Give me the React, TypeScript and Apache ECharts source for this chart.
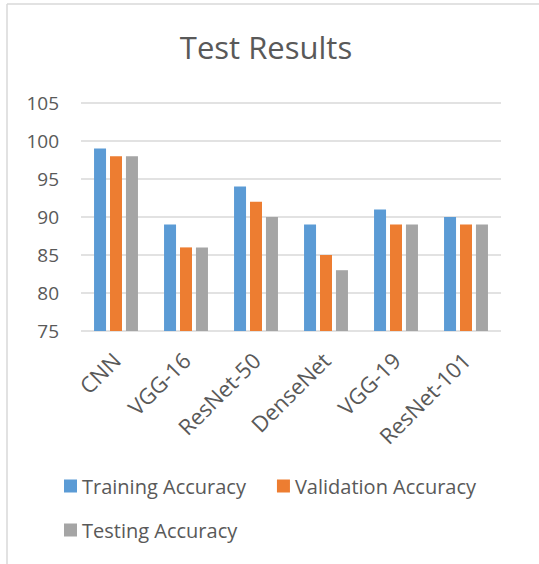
import React, { useEffect, useRef } from "react";
import * as echarts from "echarts";

const categories = ["CNN", "VGG-16", "ResNet-50", "DenseNet", "VGG-19", "ResNet-101"];
const trainingAccuracy = [99, 89, 94, 89, 91, 90];
const validationAccuracy = [98, 86, 92, 85, 89, 89];
const testingAccuracy = [98, 86, 90, 83, 89, 89];
const seriesNames = ["Training Accuracy", "Validation Accuracy", "Testing Accuracy"];
const colors = ["#5B9BD5", "#ED7D31", "#A5A5A5"];

const FONT = "Open Sans";
const TEXT = "#595959";

export default function App() {
  const ref = useRef<HTMLDivElement>(null);
  useEffect(() => {
    if (!ref.current) return;
    const chart = echarts.init(ref.current, null, { renderer: "svg" });
    const values = [trainingAccuracy, validationAccuracy, testingAccuracy];
    chart.setOption({
      animation: false,
      backgroundColor: "#ffffff",
      textStyle: { fontFamily: FONT, color: TEXT },
      title: {
        text: "Test Results",
        left: 266,
        top: 31,
        padding: 0,
        textAlign: "center",
        textStyle: { fontFamily: FONT, fontSize: 31, fontWeight: "normal", color: TEXT },
      },
      graphic: [
        { type: "line", shape: { x1: 7, y1: 4, x2: 539, y2: 4 }, style: { stroke: "#d9d9d9", lineWidth: 1.5 } },
        { type: "line", shape: { x1: 7, y1: 4, x2: 7, y2: 564 }, style: { stroke: "#d9d9d9", lineWidth: 1.5 } },
      ],
      legend: [
        {
          data: seriesNames.slice(0, 2),
          left: 64,
          top: 476,
          padding: 0,
          itemWidth: 13,
          itemHeight: 13,
          itemGap: 31,
          icon: "rect",
          textStyle: { fontFamily: FONT, fontSize: 20, color: TEXT },
        },
        {
          data: seriesNames.slice(2),
          left: 64,
          top: 520,
          padding: 0,
          itemWidth: 13,
          itemHeight: 13,
          icon: "rect",
          textStyle: { fontFamily: FONT, fontSize: 20, color: TEXT },
        },
      ],
      grid: { left: 81, right: 38, top: 103, bottom: 233, containLabel: false },
      xAxis: {
        type: "category",
        data: categories,
        axisLine: { show: false },
        axisTick: { show: false },
        axisLabel: { rotate: 45, margin: 25, fontFamily: FONT, fontSize: 22, color: TEXT, interval: 0 },
      },
      yAxis: {
        type: "value",
        min: 75,
        max: 105,
        interval: 5,
        axisLine: { show: false },
        axisTick: { show: false },
        axisLabel: { margin: 22, fontFamily: FONT, fontSize: 19, color: TEXT },
        splitLine: { lineStyle: { color: "#d9d9d9", width: 1.5 } },
      },
      series: seriesNames.map((name, i) => ({
        name,
        type: "bar",
        data: values[i],
        barWidth: 12,
        barGap: "33%",
        itemStyle: { color: colors[i] },
      })),
    });
    return () => chart.dispose();
  }, []);
  return (
    <div
      ref={ref}
      style={{ position: "fixed", left: 0, top: 0, width: 539, height: 564, background: "#fff" }}
    />
  );
}
